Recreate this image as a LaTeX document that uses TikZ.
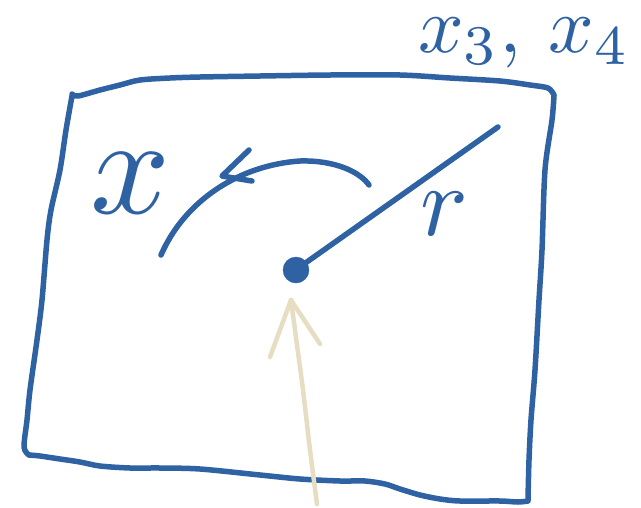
\documentclass[tikz,border=0pt]{standalone}
\usepackage{graphicx}
\usetikzlibrary{calc}
\definecolor{inkblue}{HTML}{2E62A3}
\definecolor{inkbeige}{HTML}{E6DDC3}
\tikzset{
  pen/.style={draw=inkblue, line width=5.5pt, line cap=round, line join=round},
  beigepen/.style={draw=inkbeige, line width=4.5pt, line cap=round, line join=round},
  label/.style={text=inkblue, inner sep=0pt, outer sep=0pt}
}
\begin{document}
\begin{tikzpicture}[x=1pt,y=-1pt]
\useasboundingbox (0,0) rectangle (641,507);
% frame
\draw[pen] plot[smooth, tension=0.5] coordinates {
 (72,94) (78,96) (100,90) (120,85) (140,80) (170,78) (200,77) (260,76) (330,75)
 (400,75) (450,78) (500,81) (530,85) (548,88) (554,95) };
\draw[pen] plot[smooth, tension=0.5] coordinates {
 (554,96) (552,120) (545,170) (542,250) (539,300) (535,370) (531,420) (529,460) (528,500) };
\draw[pen] plot[smooth, tension=0.5] coordinates {
 (528,501) (518,502) (500,501) (460,501) (440,499) (420,495) (400,489) (385,484)
 (365,481) (340,481) (300,479) (260,475) (200,469) (160,468) (130,468) (100,466)
 (80,462) (60,459) (40,456) (29,455) };
\draw[pen] plot[smooth, tension=0.5] coordinates {
 (29,455) (24,447) (27,420) (30,390) (37,340) (42,300) (47,240) (51,210) (60,170) (66,130) (72,96) };
% curved arrow
\coordinate (arcS) at (161,255);
\coordinate (arcT) at (222,176);
\draw[pen] (arcS) .. controls (185,200) and (240,165) .. (300,161)
  .. controls (335,160) and (360,172) .. (369,185);
\draw[pen] (249,150) -- (arcT) -- (252,181);
% centre dot and radius line
\coordinate (rEnd) at (498,127);
\node[circle, fill=inkblue, draw=inkblue, minimum size=26pt, inner sep=0pt] (dot) at (296,270) {};
\draw[pen] (dot.center) ++(8,-6) -- (rEnd);
% beige arrow
\coordinate (bTop) at (291,300);
\coordinate (bBot) at (317,504);
\draw[beigepen] plot[smooth, tension=0.5] coordinates {(bBot) (310,450) (303,390) (295,330) (bTop)};
\draw[beigepen] (270,357) -- (bTop) -- (320,344);
% labels
\node[label] (xlab) at (131,183) {\scalebox{14}{$x$}};
\node[label] (rlab) at (444,214) {\scalebox{10}{$r$}};
\node[label, anchor=base west] (x34) at (418,52) {\scalebox{8}{$x_3,\, x_4$}};
\end{tikzpicture}
\end{document}
